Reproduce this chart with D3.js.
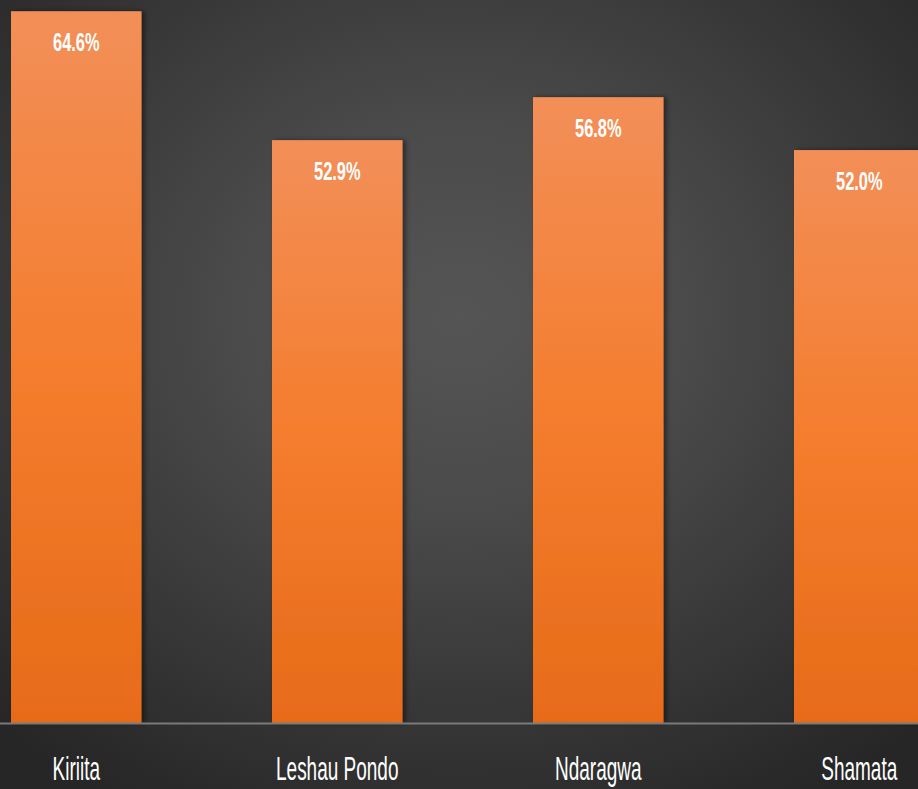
<!DOCTYPE html>
<html>
<head>
<meta charset="utf-8">
<script src="https://cdn.jsdelivr.net/npm/d3@7"></script>
<style>
  html, body { margin: 0; padding: 0; background: #2b2b2b; }
  svg { display: block; }
</style>
</head>
<body>
<svg id="chart"></svg>
<script>
const w = 918;
const h = 789;
const baseline = 723;

const categories = ["Kiriita", "Leshau Pondo", "Ndaragwa", "Shamata"];
const values = [64.6, 52.9, 56.8, 52.0];
const labels = ["64.6%", "52.9%", "56.8%", "52.0%"];

var chart = d3.select("#chart")
  .attr("width", w)
  .attr("height", h);

var defs = chart.append("defs");

var bg = defs.append("radialGradient")
  .attr("id", "bg")
  .attr("cx", "0.5").attr("cy", "0.4").attr("r", "0.72");
bg.append("stop").attr("offset", "0%").attr("stop-color", "#555555");
bg.append("stop").attr("offset", "35%").attr("stop-color", "#4a4a4a");
bg.append("stop").attr("offset", "100%").attr("stop-color", "#262626");

var barGrad = defs.append("linearGradient")
  .attr("id", "barGrad")
  .attr("x1", 0).attr("y1", 0).attr("x2", 0).attr("y2", 1);
barGrad.append("stop").attr("offset", "0%").attr("stop-color", "#f28f58");
barGrad.append("stop").attr("offset", "50%").attr("stop-color", "#f47d2e");
barGrad.append("stop").attr("offset", "100%").attr("stop-color", "#e76b19");

var shadow = defs.append("filter")
  .attr("id", "shadow")
  .attr("x", "-10%").attr("y", "-5%").attr("width", "130%").attr("height", "110%");
shadow.append("feDropShadow")
  .attr("dx", 3).attr("dy", 0).attr("stdDeviation", 2.5)
  .attr("flood-color", "#000").attr("flood-opacity", 0.45);

chart.append("rect")
  .attr("width", w)
  .attr("height", h)
  .attr("fill", "url(#bg)");

const xScale = d3.scaleBand()
  .domain(categories)
  .range([-54.25, 989.75])
  .paddingInner(0.5)
  .paddingOuter(0.25);

const yScale = d3.scaleLinear()
  .domain([0, 65.62])
  .range([baseline, 0]);

chart.selectAll(".bar")
  .data(values)
  .join("rect")
  .attr("class", "bar")
  .attr("x", (d, i) => xScale(categories[i]))
  .attr("y", d => yScale(d))
  .attr("width", xScale.bandwidth())
  .attr("height", d => baseline - yScale(d))
  .attr("fill", "url(#barGrad)")
  .attr("filter", "url(#shadow)");

// baseline
chart.append("line")
  .attr("x1", 0).attr("x2", w)
  .attr("y1", baseline + 0.5).attr("y2", baseline + 0.5)
  .attr("stroke", "#7a7a7a")
  .attr("stroke-width", 2);

// value labels
chart.selectAll(".val")
  .data(values)
  .join("text")
  .attr("class", "val")
  .attr("transform", (d, i) => `translate(${xScale(categories[i]) + xScale.bandwidth() / 2}, ${yScale(d) + 40}) scale(1, 1.62)`)
  .attr("text-anchor", "middle")
  .attr("fill", "#ffffff")
  .style("font-family", "'Liberation Sans Narrow', 'Arial Narrow', sans-serif")
  .style("font-weight", "bold")
  .style("font-size", "16.4px")
  .text((d, i) => labels[i]);

// category labels
const xAxis = d3.axisBottom(xScale).tickSize(0).tickPadding(0);
var gx = chart.append("g")
  .attr("id", "x-axis")
  .attr("transform", `translate(0, ${baseline})`)
  .call(xAxis);
gx.select(".domain").remove();
gx.selectAll("text")
  .attr("y", 0)
  .attr("dy", 0)
  .attr("transform", "translate(0, 57) scale(1, 1.75)")
  .attr("fill", "#ffffff")
  .style("font-family", "'Liberation Sans Narrow', 'Arial Narrow', sans-serif")
  .style("font-size", "19px");
</script>
</body>
</html>
